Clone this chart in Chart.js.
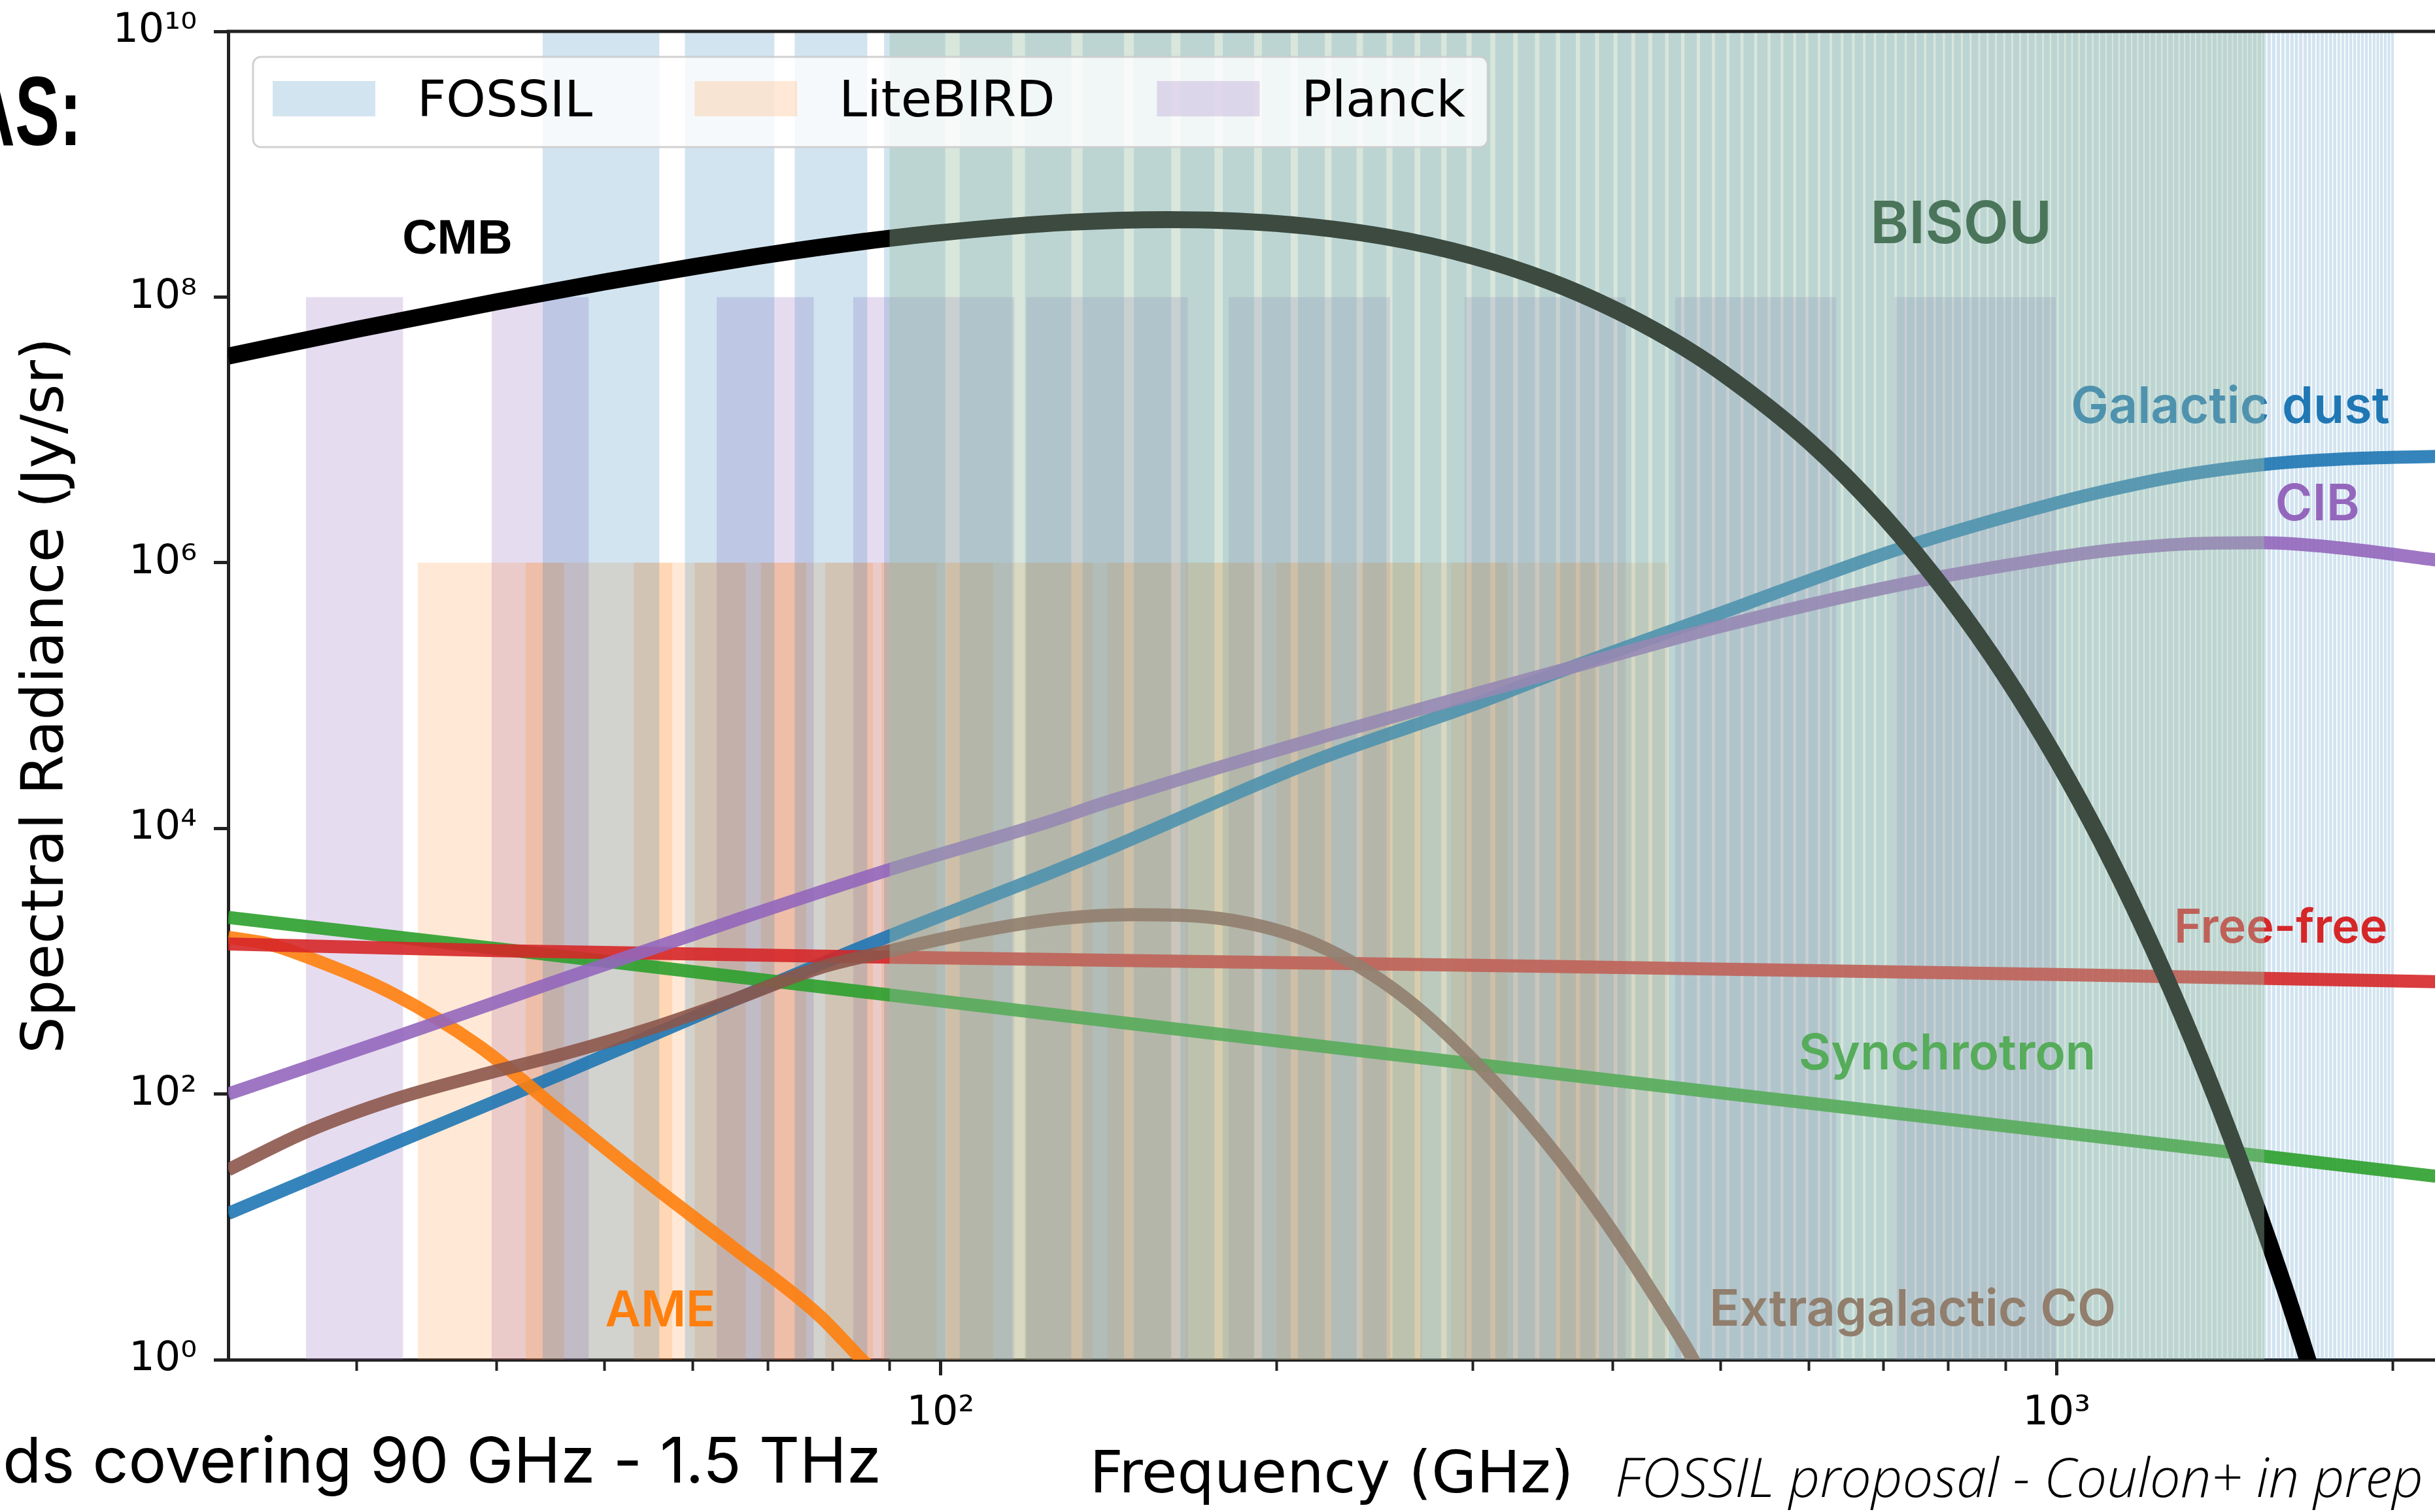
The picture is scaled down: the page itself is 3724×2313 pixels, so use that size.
<!DOCTYPE html>
<html>
<head>
<meta charset="utf-8">
<script src="https://cdn.jsdelivr.net/npm/chart.js@4.4.1/dist/chart.umd.min.js"></script>
<style>
html,body{margin:0;padding:0;background:#ffffff;overflow:hidden;}
canvas{display:block;}
</style>
</head>
<body>
<canvas id="c" width="3724" height="2313"></canvas>
<script>
// ------------------------------------------------------------------
// DATA
// ------------------------------------------------------------------
// axis ticks
const xTickValues = [100, 1000];
const xTickLabels = ['10²', '10³'];
const xMinorTickValues = [30, 40, 50, 60, 70, 80, 90, 200, 300, 400, 500, 600, 700, 800, 900, 2000];
const yTickValues = [1, 1e2, 1e4, 1e6, 1e8, 1e10];
const yTickLabels = ['10⁰', '10²', '10⁴', '10⁶', '10⁸', '10¹⁰'];

// CMB
const cmbFreq = [23, 30, 40, 50, 60, 70, 85, 100, 130, 160, 200, 250, 300, 350, 400, 450, 500, 600, 700, 800, 900, 1000, 1100, 1200, 1300, 1400, 1500, 1600, 1700];
const cmbVal  = [3.59e7, 5.71e7, 9.21e7, 1.30e8, 1.69e8, 2.08e8, 2.61e8, 3.05e8, 3.65e8, 3.83e8, 3.58e8, 2.85e8, 2.03e8, 1.33e8, 8.2e7, 4.85e7, 2.75e7, 8.2e6, 2.23e6, 5.7e5, 1.40e5, 3.3e4, 7.6e3, 1.69e3, 368, 79, 16.7, 3.5, 0.72];

// Galactic dust
const dustFreq = [23, 32, 46, 65, 90, 125, 140, 218, 300, 356, 500, 720, 1000, 1133, 1300, 1535, 1800, 2190];
const dustVal  = [12.6, 40.7, 144.5, 501, 1549, 4571, 6761, 33110, 85110, 1.479e5, 4.169e5, 1.259e6, 2.818e6, 3.631e6, 4.571e6, 5.495e6, 6.026e6, 6.310e6];

// CIB
const cibFreq = [23, 32, 46, 65, 90, 125, 140, 218, 356, 500, 720, 1000, 1133, 1300, 1535, 1800, 2190];
const cibVal  = [100, 257, 741, 1995, 4898, 11220, 15490, 47860, 1.514e5, 3.311e5, 6.761e5, 1.096e6, 1.259e6, 1.380e6, 1.413e6, 1.288e6, 1.047e6];

// Free-free
const ffFreq = [23, 40, 90, 200, 356, 1000, 2190];
const ffVal  = [1349, 1202, 1072, 977, 912, 794, 700];

// Synchrotron
const syncFreq = [23, 50, 100, 200, 500, 1000, 2190];
const syncVal  = [2138, 1000, 501, 251, 102, 51.9, 24.0];

// AME
const ameFreq = [23, 25, 27.1, 32.4, 38.6, 45.9, 54.8, 65.3, 77.9, 84.1, 95, 110];
const ameVal  = [1514, 1349, 1072, 562, 229, 70.8, 21.4, 6.92, 2.14, 1.10, 0.38, 0.1];

// Extragalactic CO
const coFreq = [23, 27.1, 32.4, 38.6, 45.9, 54.8, 65.3, 77.9, 90.2, 107.4, 128, 148.6, 181.8, 216.7, 258.4, 307.8, 356.4, 398, 440, 471, 500];
const coVal  = [26.9, 52.5, 91.2, 138, 200, 309, 513, 891, 1202, 1660, 2089, 2239, 2042, 1349, 562, 145, 34.7, 9.8, 2.69, 1.05, 0.4];

// Bands (GHz)
const planckLo = [27.0, 39.6, 63.0, 83.5, 119.4, 181.2, 294.8, 455.1, 715.6];
const planckHi = [33.0, 48.4, 77.0, 116.5, 166.6, 252.8, 411.2, 634.9, 998.4];
const planckTop = 1e8;

const litebirdLo = [34.0, 42.5, 53.1, 60.2, 69.0, 78.8, 88.5, 101.2, 119.0, 141.1, 165.8, 199.8, 238.0, 286.5, 355.8];
const litebirdHi = [46.0, 57.5, 66.9, 75.8, 87.0, 99.2, 111.5, 136.9, 161.0, 190.9, 224.3, 270.3, 322.0, 387.6, 448.2];
const litebirdTop = 1e6;

const fossilStart = [
  44, 59, 74, 89, 104, 119, 134, 149, 164, 179,
  194, 209, 224, 239, 254, 269, 284, 299, 314, 329,
  344, 359, 374, 389, 404, 419, 434, 449, 464, 479,
  494, 509, 524, 539, 554, 569, 584, 599, 614, 629,
  644, 659, 674, 689, 704, 719, 734, 749, 764, 779,
  794, 809, 824, 839, 854, 869, 884, 899, 914, 929,
  944, 959, 974, 989, 1004, 1019, 1034, 1049, 1064, 1079,
  1094, 1109, 1124, 1139, 1154, 1169, 1184, 1199, 1214, 1229,
  1244, 1259, 1274, 1289, 1304, 1319, 1334, 1349, 1364, 1379,
  1394, 1409, 1424, 1439, 1454, 1469, 1484, 1499, 1514, 1529,
  1544, 1559, 1574, 1589, 1604, 1619, 1634, 1649, 1664, 1679,
  1694, 1709, 1724, 1739, 1754, 1769, 1784, 1799, 1814, 1829,
  1844, 1859, 1874, 1889, 1904, 1919, 1934, 1949, 1964, 1979,
  1994
];
const fossilWidth = 12;
const fossilTop = 1e10;

const bisouRange = [90, 1535];
const bisouTop = 1e10;

// legend entries
const legendNames = ['FOSSIL', 'LiteBIRD', 'Planck'];

// curve labels: text, anchor frequency, anchor value
const curveLabelText = ['CMB', 'Galactic dust', 'CIB', 'Free-free', 'Synchrotron', 'Extragalactic CO', 'AME'];
const curveLabelFreq = [36.9, 1431, 1713, 1588, 798, 743, 56.1];
const curveLabelVal  = [2.67e8, 1.47e7, 2.72e6, 1754, 199, 2.34, 2.29];
const bisouLabel = {text: 'BISOU', f: 821, v: 3.47e8};

// ------------------------------------------------------------------
// STYLE
// ------------------------------------------------------------------
const C = {
  dust: 'rgba(31,119,180,0.9)',
  ame: 'rgba(255,127,14,0.9)',
  sync: 'rgba(44,160,44,0.9)',
  ff: 'rgba(214,39,40,0.9)',
  cib: 'rgba(148,103,189,0.9)',
  co: 'rgba(140,86,75,0.9)',
  cmb: '#000000',
  fossil: 'rgba(31,119,180,0.2)',
  litebird: 'rgba(255,127,14,0.17)',
  planck: 'rgba(148,103,189,0.23)',
  bisou: 'rgba(154,190,164,0.39)'
};
const labelColors = ['#000000', '#1f77b4', '#9467bd', '#d62728', '#2ca02c', '#8c564b', '#ff7f0e'];
const labelFonts = ['bold 74px "Liberation Sans", Arial, sans-serif', '600 77px Inter, sans-serif', '600 77px Inter, sans-serif', '600 72px Inter, sans-serif', '600 76px Inter, sans-serif', '600 77px Inter, sans-serif', '600 75px Inter, sans-serif'];

function curve(label, freq, vals, color, width, order) {
  return {
    label, type: 'line',
    data: freq.map((f, i) => ({x: f, y: vals[i]})),
    borderColor: color, borderWidth: width, backgroundColor: color,
    pointRadius: 0, pointHoverRadius: 0, fill: false,
    cubicInterpolationMode: 'monotone', clip: 0, order,
    xAxisID: 'x', yAxisID: 'y'
  };
}
function band(label, lo, hi, top, color, order) {
  return {
    label, type: 'line',
    data: [{x: lo, y: top}, {x: hi, y: top}],
    borderColor: 'rgba(0,0,0,0)', borderWidth: 0, backgroundColor: color,
    fill: 'start', pointRadius: 0, pointHoverRadius: 0, tension: 0, order,
    xAxisID: 'x', yAxisID: 'y'
  };
}

const datasets = [];
datasets.push(band('BISOU', bisouRange[0], bisouRange[1], bisouTop, C.bisou, 0)); // drawn over the curves
const CMB_INDEX = datasets.length;
datasets.push(curve('CMB', cmbFreq, cmbVal, C.cmb, 26, 1));
datasets.push(curve('Extragalactic CO', coFreq, coVal, C.co, 20, 2));
datasets.push(curve('CIB', cibFreq, cibVal, C.cib, 20, 3));
datasets.push(curve('Free-free', ffFreq, ffVal, C.ff, 20, 4));
datasets.push(curve('Synchrotron', syncFreq, syncVal, C.sync, 20, 5));
datasets.push(curve('AME', ameFreq, ameVal, C.ame, 20, 6));
datasets.push(curve('Galactic dust', dustFreq, dustVal, C.dust, 20, 7));
fossilStart.forEach(s => datasets.push(band('FOSSIL', s, s + fossilWidth, fossilTop, C.fossil, 8)));
litebirdLo.forEach((lo, i) => datasets.push(band('LiteBIRD', lo, litebirdHi[i], litebirdTop, C.litebird, 9)));
planckLo.forEach((lo, i) => datasets.push(band('Planck', lo, planckHi[i], planckTop, C.planck, 10)));

const legendColors = [C.fossil, C.litebird, C.planck];

// ------------------------------------------------------------------
// PLUGIN: labels, legend, frame, slide text
// ------------------------------------------------------------------
function fitSize(ctx, text, fontTpl, base, targetW) {
  ctx.font = fontTpl(base);
  const w = ctx.measureText(text).width;
  return base * targetW / w;
}

const overlay = {
  id: 'overlay',
  afterDatasetDraw(chart, args) {
    if (args.index !== CMB_INDEX) return;
    const {ctx, scales: {x, y}} = chart;
    ctx.save();
    ctx.textAlign = 'center';
    ctx.textBaseline = 'middle';
    curveLabelText.forEach((t, i) => {
      ctx.font = labelFonts[i];
      ctx.fillStyle = labelColors[i];
      ctx.fillText(t, x.getPixelForValue(curveLabelFreq[i]), y.getPixelForValue(curveLabelVal[i]));
    });
    ctx.restore();
  },
  afterDatasetsDraw(chart) {
    const {ctx, chartArea: ca, scales: {x, y}} = chart;
    ctx.save();
    // BISOU label
    ctx.font = '600 90px Inter, sans-serif';
    ctx.fillStyle = '#4a755a';
    ctx.textAlign = 'center';
    ctx.textBaseline = 'middle';
    ctx.fillText(bisouLabel.text, x.getPixelForValue(bisouLabel.f), y.getPixelForValue(bisouLabel.v));

    // legend
    ctx.font = '77px "DejaVu Sans", sans-serif';
    const boxX = ca.left + 38, boxY = ca.top + 39, boxH = 138;
    const patchW = 157, patchH = 54, gapPT = 64, gapItem = 156, padL = 30, padR = 34;
    let w = padL;
    legendNames.forEach((n, i) => {
      w += patchW + gapPT + ctx.measureText(n).width;
      if (i < legendNames.length - 1) w += gapItem;
    });
    w += padR;
    ctx.beginPath();
    ctx.roundRect(boxX, boxY, w, boxH, 12);
    ctx.fillStyle = 'rgba(255,255,255,0.8)';
    ctx.fill();
    ctx.lineWidth = 3;
    ctx.strokeStyle = 'rgba(204,204,204,0.9)';
    ctx.stroke();
    let cx = boxX + padL;
    ctx.textAlign = 'left';
    ctx.textBaseline = 'alphabetic';
    legendNames.forEach((n, i) => {
      ctx.fillStyle = legendColors[i];
      ctx.fillRect(cx, boxY + 37, patchW, patchH);
      cx += patchW + gapPT;
      ctx.fillStyle = '#000';
      ctx.fillText(n, cx, boxY + 91);
      cx += ctx.measureText(n).width + gapItem;
    });

    // top frame line
    ctx.beginPath();
    ctx.moveTo(ca.left - 2.5, ca.top);
    ctx.lineTo(ca.right, ca.top);
    ctx.lineWidth = 5;
    ctx.strokeStyle = '#222';
    ctx.stroke();
    ctx.restore();
  },
  afterDraw(chart) {
    const {ctx} = chart;
    ctx.save();
    ctx.fillStyle = '#000';
    ctx.textBaseline = 'alphabetic';
    // cropped slide heading fragment (condensed bold)
    ctx.save();
    ctx.translate(125, 222);
    ctx.scale(0.68, 1);
    ctx.textAlign = 'right';
    ctx.font = 'bold 150px "Liberation Sans", Arial, sans-serif';
    ctx.fillText('AS:', 0, 0);
    ctx.restore();

    const t1 = 'ds covering 90 GHz - 1.5 THz';
    const f1 = s => `400 ${s}px Inter, sans-serif`;
    const s1 = fitSize(ctx, t1, f1, 90, 1344);
    ctx.font = f1(s1);
    ctx.textAlign = 'right';
    ctx.fillText(t1, 1348, 2268);

    const t2 = 'FOSSIL proposal - Coulon+ in prep';
    const f2 = s => `italic 300 ${s}px "Open Sans", sans-serif`;
    const s2 = fitSize(ctx, t2, f2, 70, 1236);
    ctx.font = f2(s2);
    ctx.textAlign = 'left';
    ctx.fillText(t2, 2470, 2290);
    ctx.restore();
  }
};

function noPad(s) { s.paddingTop = 0; s.paddingBottom = 0; s.paddingLeft = 0; s.paddingRight = 0; }

// ------------------------------------------------------------------
// CHART
// ------------------------------------------------------------------
function build() {
  Chart.defaults.font.family = '"DejaVu Sans", sans-serif';
  new Chart(document.getElementById('c'), {
    type: 'line',
    data: {datasets},
    options: {
      responsive: false,
      animation: false,
      devicePixelRatio: 1,
      events: [],
      layout: {padding: {top: 48, right: 0, bottom: 0, left: 0}},
      plugins: {legend: {display: false}, tooltip: {enabled: false}},
      scales: {
        x: {
          type: 'logarithmic', position: 'bottom', min: 23, max: 2183, weight: 1, z: 1,
          afterBuildTicks: s => { s.ticks = xTickValues.map(v => ({value: v})); },
          afterFit: s => { s.height = 233; noPad(s); },
          ticks: {
            autoSkip: false, maxRotation: 0, padding: 22, color: '#000',
            font: {family: '"DejaVu Sans", sans-serif', size: 62},
            callback: (v, i) => xTickLabels[i]
          },
          grid: {display: true, drawOnChartArea: false, drawTicks: true, tickLength: 24, tickWidth: 5, tickColor: '#222'},
          border: {display: true, color: '#222', width: 5},
          title: {display: true, text: 'Frequency (GHz)', color: '#000', font: {family: '"DejaVu Sans", sans-serif', size: 89}, padding: {top: 0, bottom: 0}}
        },
        xMinor: {
          type: 'logarithmic', position: 'bottom', min: 23, max: 2183, weight: 0, z: 1,
          afterBuildTicks: s => { s.ticks = xMinorTickValues.map(v => ({value: v})); },
          afterFit: s => { s.height = 0; noPad(s); },
          ticks: {display: false, autoSkip: false},
          grid: {display: true, drawOnChartArea: false, drawTicks: true, tickLength: 17, tickWidth: 4, tickColor: '#222'},
          border: {display: false}
        },
        y: {
          type: 'logarithmic', position: 'left', min: 1, max: 1e10, z: 1,
          afterBuildTicks: s => { s.ticks = yTickValues.map(v => ({value: v})); },
          afterFit: s => { s.width = 349; noPad(s); },
          ticks: {
            autoSkip: false, padding: 26, color: '#000',
            font: {family: '"DejaVu Sans", sans-serif', size: 62},
            callback: (v, i) => yTickLabels[i]
          },
          grid: {display: true, drawOnChartArea: false, drawTicks: true, tickLength: 22, tickWidth: 5, tickColor: '#222'},
          border: {display: true, color: '#222', width: 5},
          title: {display: true, text: 'Spectral Radiance (Jy/sr)', color: '#000', font: {family: '"DejaVu Sans", sans-serif', size: 89}, padding: {top: 19, bottom: 0}}
        }
      }
    },
    plugins: [overlay]
  });
}

const fontLoads = [
  '600 77px Inter', '400 90px Inter', 'bold 74px "Liberation Sans"',
  'italic 300 70px "Open Sans"', '62px "DejaVu Sans"'
].map(f => document.fonts.load(f).catch(() => null));
Promise.all(fontLoads).then(build, build);
</script>
</body>
</html>
